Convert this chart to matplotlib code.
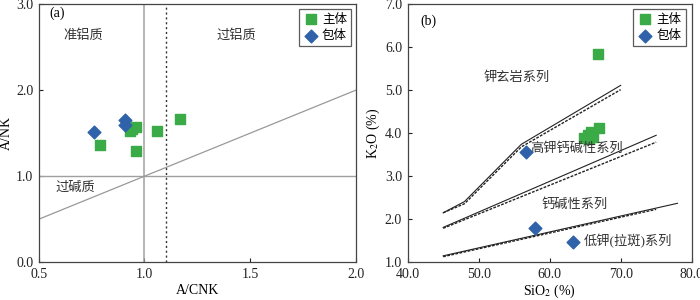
import matplotlib
matplotlib.use('Agg')
import matplotlib.pyplot as plt

plt.rcParams['font.family'] = ['Liberation Serif', 'Noto Sans CJK SC']
plt.rcParams['mathtext.fontset'] = 'stix'
plt.rcParams['axes.unicode_minus'] = False

# (a) A/CNK - A/NK
zt_acnk = [0.79, 0.96, 0.94, 0.96, 0.93, 1.06, 1.17]
zt_anK = [1.36, 1.29, 1.55, 1.57, 1.52, 1.53, 1.67]
bt_acnk = [0.76, 0.91, 0.91]
bt_anK = [1.51, 1.65, 1.60]

# (b) SiO2 - K2O
zt_sio2 = [66.8, 64.9, 65.8, 66.1, 67.0, 65.4, 65.6]
zt_k2o = [5.84, 3.88, 4.02, 3.90, 4.11, 3.95, 3.86]
bt_sio2 = [56.6, 57.9, 63.3]
bt_k2o = [3.57, 1.79, 1.46]

# 分界线
shos_x = [45, 48, 56, 70]
shos_y = [2.15, 2.41, 3.74, 5.11]
shos_y2 = [2.15, 2.36, 3.68, 5.01]
hk_x = [45, 75]
hk_y = [1.81, 3.95]
hk_y2 = [1.79, 3.79]
lk_x = [45, 78]
lk_y = [1.15, 2.37]
lk_x2 = [45, 75]
lk_y2 = [1.13, 2.23]

lv = '#3bab48'
lan = '#2f62a8'

fig = plt.figure(figsize=(7, 3), dpi=100)
ax1 = fig.add_axes([0.0553, 0.1257, 0.4533, 0.861])
ax2 = fig.add_axes([0.5824, 0.1257, 0.4057, 0.861])

for ax in (ax1, ax2):
    for s in ax.spines.values():
        s.set_color('#444444')
        s.set_linewidth(0.9)
    ax.tick_params(direction='in', length=3, labelsize=10, colors='#222222',
                   width=0.8, pad=4)

# ---- (a)
ax1.axvline(1.0, color='#a0a0a0', lw=1.1)
ax1.axhline(1.0, color='#a0a0a0', lw=1.0)
ax1.axvline(1.1, color='#333333', lw=1.0, ls=(0, (1.5, 2)))
ax1.plot([0.5, 2.0], [0.5, 2.0], color='#999999', lw=0.9)
ax1.scatter(zt_acnk, zt_anK, marker='s', s=52, color=lv, label='主体', zorder=3)
ax1.scatter(bt_acnk, bt_anK, marker='D', s=42, color=lan, label='包体', zorder=4)
ax1.set_xlim(0.5, 2.0)
ax1.set_ylim(0, 3.0)
ax1.set_xticks([0.5, 1.0, 1.5, 2.0])
ax1.set_yticks([0, 1, 2, 3])
ax1.xaxis.set_major_formatter(plt.FormatStrFormatter('%.1f'))
ax1.yaxis.set_major_formatter(plt.FormatStrFormatter('%.1f'))
ax1.set_xlabel('A/CNK', fontsize=10, labelpad=2)
ax1.set_ylabel('A/NK', fontsize=10, labelpad=2)
ax1.text(0.587, 2.89, '(a)', fontsize=10, ha='center', va='center')
ax1.text(0.71, 2.63, '准铝质', fontsize=9.5, ha='center', va='center', color='#333333')
ax1.text(1.433, 2.63, '过铝质', fontsize=9.5, ha='center', va='center', color='#333333')
ax1.text(0.672, 0.87, '过碱质', fontsize=9.5, ha='center', va='center', color='#333333')
lg = ax1.legend(loc='upper right', bbox_to_anchor=(0.985, 0.98), fontsize=9,
                frameon=True, fancybox=False, borderaxespad=0, handletextpad=0.3,
                borderpad=0.35, labelspacing=0.35, handlelength=1.2)
lg.get_frame().set_edgecolor('#333333')
lg.get_frame().set_linewidth(0.9)

# ---- (b)
ax2.plot(shos_x, shos_y, color='#222222', lw=0.8)
ax2.plot(shos_x, shos_y2, color='#222222', lw=1.0, ls=(0, (2, 1)))
ax2.plot(hk_x, hk_y, color='#222222', lw=0.8)
ax2.plot(hk_x, hk_y2, color='#222222', lw=1.0, ls=(0, (2, 1)))
ax2.plot(lk_x, lk_y, color='#222222', lw=0.8)
ax2.plot(lk_x2, lk_y2, color='#222222', lw=1.0, ls=(0, (2, 1)))
ax2.scatter(zt_sio2, zt_k2o, marker='s', s=52, color=lv, label='主体', zorder=3)
ax2.scatter(bt_sio2, bt_k2o, marker='D', s=42, color=lan, label='包体', zorder=4)
ax2.set_xlim(40, 80)
ax2.set_ylim(1, 7)
ax2.set_xticks([40, 50, 60, 70, 80])
ax2.set_yticks([1, 2, 3, 4, 5, 6, 7])
ax2.xaxis.set_major_formatter(plt.FormatStrFormatter('%.1f'))
ax2.yaxis.set_major_formatter(plt.FormatStrFormatter('%.1f'))
ax2.set_xlabel('SiO$_2$ (%)', fontsize=10, labelpad=1)
ax2.set_ylabel('K$_2$O (%)', fontsize=10, labelpad=2)
ax2.text(42.9, 6.6, '(b)', fontsize=10, ha='center', va='center')
ax2.text(55.4, 5.29, '钾玄岩系列', fontsize=9.5, ha='center', va='center', color='#333333')
ax2.text(63.8, 3.64, '高钾钙碱性系列', fontsize=9.5, ha='center', va='center', color='#333333')
ax2.text(63.5, 2.34, '钙碱性系列', fontsize=9.5, ha='center', va='center', color='#333333')
ax2.text(71.0, 1.5, '低钾(拉斑)系列', fontsize=9.5, ha='center', va='center', color='#333333')
lg2 = ax2.legend(loc='upper right', bbox_to_anchor=(0.98, 0.98), fontsize=9,
                 frameon=True, fancybox=False, borderaxespad=0, handletextpad=0.3,
                 borderpad=0.35, labelspacing=0.35, handlelength=1.2)
lg2.get_frame().set_edgecolor('#333333')
lg2.get_frame().set_linewidth(0.9)

for ax in (ax1, ax2):
    for t in ax.get_yticklabels():
        t.set_va('center_baseline')

fig.savefig('out.png', dpi=100)
